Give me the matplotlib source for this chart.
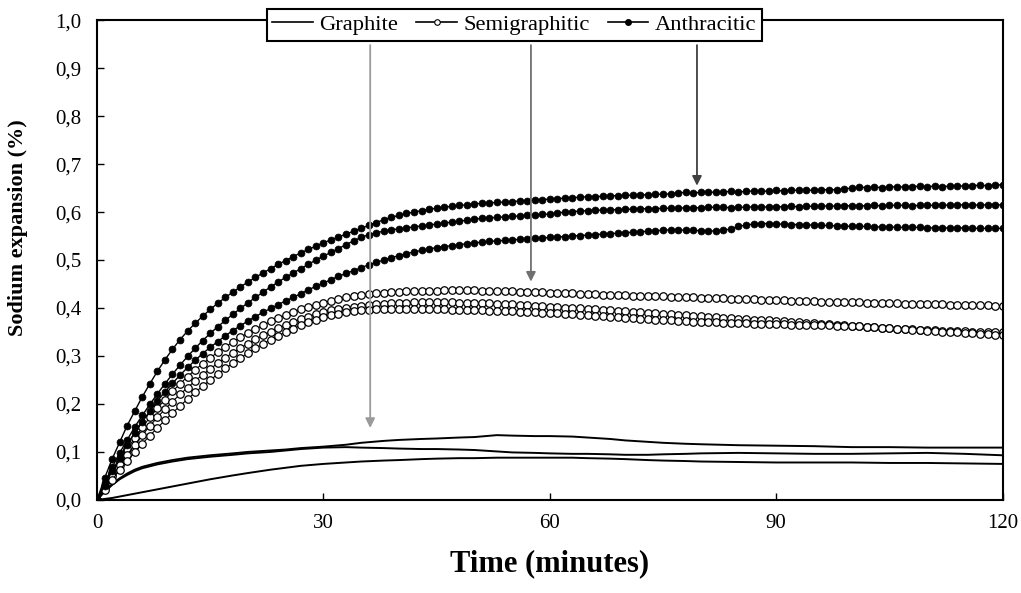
"""Sodium expansion vs time for graphite, semigraphitic and anthracitic cathodes."""

import numpy as np
import matplotlib
matplotlib.use('Agg')
import matplotlib.pyplot as plt
from matplotlib.lines import Line2D
from matplotlib.ticker import FuncFormatter, MultipleLocator

# time in minutes, one reading per minute for the marker curves
t = np.arange(0, 121)

anthracitic_1 = [
    0.000, 0.045, 0.085, 0.120, 0.155, 0.185, 0.215, 0.242, 0.268, 0.292,
    0.314, 0.334, 0.352, 0.368, 0.383, 0.397, 0.410, 0.422, 0.433, 0.444,
    0.454, 0.464, 0.473, 0.482, 0.491, 0.499, 0.507, 0.515, 0.522, 0.529,
    0.536, 0.542, 0.548, 0.554, 0.560, 0.566, 0.572, 0.578, 0.584, 0.589,
    0.593, 0.597, 0.600, 0.603, 0.606, 0.608, 0.610, 0.612, 0.614, 0.615,
    0.617, 0.618, 0.619, 0.620, 0.621, 0.622, 0.623, 0.624, 0.625, 0.626,
    0.627, 0.628, 0.629, 0.630, 0.631, 0.632, 0.632, 0.633, 0.634, 0.634,
    0.635, 0.635, 0.636, 0.636, 0.637, 0.637, 0.638, 0.640, 0.641, 0.640,
    0.641, 0.642, 0.641, 0.642, 0.643, 0.642, 0.643, 0.644, 0.643, 0.644,
    0.645, 0.644, 0.645, 0.646, 0.645, 0.646, 0.647, 0.646, 0.647, 0.648,
    0.650, 0.652, 0.651, 0.652, 0.651, 0.652, 0.653, 0.652, 0.653, 0.654,
    0.653, 0.654, 0.653, 0.654, 0.655, 0.654, 0.655, 0.656, 0.655, 0.656,
    0.657,
]
anthracitic_2 = [
    0.000, 0.035, 0.068, 0.098, 0.125, 0.152, 0.176, 0.199, 0.221, 0.242,
    0.262, 0.281, 0.299, 0.316, 0.332, 0.347, 0.361, 0.374, 0.387, 0.399,
    0.411, 0.422, 0.433, 0.444, 0.454, 0.464, 0.473, 0.482, 0.491, 0.500,
    0.508, 0.516, 0.524, 0.532, 0.540, 0.547, 0.553, 0.557, 0.560, 0.563,
    0.565, 0.567, 0.569, 0.571, 0.573, 0.575, 0.577, 0.579, 0.581, 0.583,
    0.585, 0.587, 0.588, 0.589, 0.590, 0.591, 0.592, 0.593, 0.594, 0.595,
    0.596, 0.598, 0.600, 0.601, 0.602, 0.603, 0.604, 0.604, 0.605, 0.605,
    0.606, 0.606, 0.607, 0.607, 0.607, 0.608, 0.608, 0.608, 0.609, 0.609,
    0.609, 0.610, 0.610, 0.610, 0.609, 0.610, 0.610, 0.611, 0.610, 0.611,
    0.611, 0.611, 0.612, 0.611, 0.612, 0.612, 0.612, 0.613, 0.612, 0.613,
    0.613, 0.613, 0.613, 0.614, 0.613, 0.614, 0.614, 0.614, 0.613, 0.614,
    0.614, 0.614, 0.615, 0.614, 0.615, 0.615, 0.614, 0.615, 0.615, 0.615,
    0.615,
]
anthracitic_3 = [
    0.000, 0.030, 0.060, 0.088, 0.115, 0.140, 0.163, 0.185, 0.206, 0.225,
    0.243, 0.260, 0.276, 0.291, 0.305, 0.318, 0.330, 0.342, 0.353, 0.363,
    0.373, 0.382, 0.391, 0.399, 0.407, 0.415, 0.422, 0.430, 0.438, 0.445,
    0.452, 0.459, 0.466, 0.472, 0.478, 0.484, 0.490, 0.495, 0.500, 0.505,
    0.509, 0.513, 0.517, 0.520, 0.523, 0.526, 0.528, 0.530, 0.532, 0.534,
    0.536, 0.537, 0.539, 0.540, 0.541, 0.542, 0.543, 0.544, 0.545, 0.546,
    0.547, 0.548, 0.549, 0.550, 0.551, 0.552, 0.553, 0.554, 0.555, 0.556,
    0.557, 0.558, 0.559, 0.560, 0.561, 0.562, 0.563, 0.563, 0.562, 0.562,
    0.561, 0.560, 0.561, 0.562, 0.565, 0.570, 0.573, 0.575, 0.576, 0.576,
    0.575, 0.575, 0.574, 0.574, 0.573, 0.573, 0.572, 0.572, 0.571, 0.571,
    0.570, 0.570, 0.570, 0.569, 0.569, 0.569, 0.568, 0.568, 0.568, 0.568,
    0.567, 0.567, 0.567, 0.567, 0.567, 0.567, 0.566, 0.566, 0.566, 0.566,
    0.566,
]
semigraphitic_1 = [
    0.000, 0.028, 0.056, 0.082, 0.106, 0.129, 0.151, 0.172, 0.191, 0.209,
    0.226, 0.242, 0.257, 0.271, 0.284, 0.296, 0.308, 0.319, 0.329, 0.339,
    0.348, 0.356, 0.364, 0.372, 0.379, 0.385, 0.391, 0.397, 0.402, 0.407,
    0.411, 0.415, 0.419, 0.422, 0.425, 0.427, 0.429, 0.431, 0.432, 0.433,
    0.434, 0.435, 0.435, 0.436, 0.436, 0.436, 0.437, 0.437, 0.437, 0.437,
    0.437, 0.436, 0.436, 0.436, 0.435, 0.435, 0.434, 0.434, 0.433, 0.433,
    0.432, 0.432, 0.431, 0.431, 0.430, 0.430, 0.429, 0.428, 0.428, 0.427,
    0.427, 0.426, 0.426, 0.425, 0.425, 0.424, 0.423, 0.423, 0.422, 0.422,
    0.421, 0.421, 0.420, 0.420, 0.419, 0.419, 0.418, 0.418, 0.417, 0.417,
    0.416, 0.416, 0.415, 0.415, 0.414, 0.414, 0.413, 0.413, 0.413, 0.412,
    0.412, 0.412, 0.411, 0.411, 0.410, 0.410, 0.410, 0.409, 0.409, 0.409,
    0.408, 0.408, 0.408, 0.407, 0.407, 0.407, 0.406, 0.406, 0.406, 0.405,
    0.405,
]
semigraphitic_2 = [
    0.000, 0.025, 0.049, 0.072, 0.094, 0.115, 0.135, 0.154, 0.172, 0.189,
    0.205, 0.220, 0.234, 0.248, 0.261, 0.273, 0.285, 0.296, 0.307, 0.317,
    0.326, 0.335, 0.343, 0.351, 0.358, 0.365, 0.371, 0.377, 0.382, 0.387,
    0.391, 0.395, 0.398, 0.401, 0.403, 0.405, 0.407, 0.408, 0.409, 0.410,
    0.411, 0.411, 0.412, 0.412, 0.412, 0.412, 0.412, 0.412, 0.411, 0.411,
    0.411, 0.410, 0.410, 0.409, 0.409, 0.408, 0.407, 0.406, 0.405, 0.404,
    0.403, 0.402, 0.401, 0.400, 0.399, 0.398, 0.397, 0.396, 0.395, 0.394,
    0.393, 0.392, 0.391, 0.390, 0.389, 0.388, 0.387, 0.386, 0.385, 0.384,
    0.383, 0.382, 0.381, 0.380, 0.379, 0.378, 0.377, 0.376, 0.375, 0.374,
    0.373, 0.372, 0.371, 0.370, 0.369, 0.368, 0.367, 0.366, 0.365, 0.364,
    0.363, 0.362, 0.361, 0.360, 0.359, 0.358, 0.357, 0.357, 0.356, 0.355,
    0.355, 0.354, 0.353, 0.353, 0.352, 0.352, 0.351, 0.351, 0.350, 0.350,
    0.349,
]
semigraphitic_3 = [
    0.000, 0.021, 0.042, 0.062, 0.081, 0.099, 0.117, 0.134, 0.150, 0.166,
    0.181, 0.196, 0.210, 0.224, 0.237, 0.250, 0.262, 0.274, 0.285, 0.296,
    0.306, 0.316, 0.325, 0.334, 0.342, 0.350, 0.357, 0.364, 0.370, 0.376,
    0.381, 0.385, 0.388, 0.391, 0.393, 0.395, 0.396, 0.397, 0.398, 0.398,
    0.398, 0.398, 0.398, 0.398, 0.397, 0.397, 0.397, 0.396, 0.396, 0.396,
    0.395, 0.395, 0.394, 0.394, 0.393, 0.393, 0.392, 0.392, 0.391, 0.390,
    0.390, 0.389, 0.388, 0.387, 0.386, 0.385, 0.384, 0.383, 0.382, 0.381,
    0.380, 0.379, 0.378, 0.377, 0.376, 0.375, 0.374, 0.373, 0.372, 0.371,
    0.371, 0.370, 0.370, 0.369, 0.369, 0.368, 0.368, 0.367, 0.367, 0.366,
    0.366, 0.366, 0.365, 0.365, 0.365, 0.364, 0.364, 0.364, 0.363, 0.363,
    0.362, 0.362, 0.361, 0.360, 0.359, 0.358, 0.357, 0.356, 0.355, 0.354,
    0.353, 0.352, 0.351, 0.350, 0.349, 0.348, 0.347, 0.346, 0.345, 0.344,
    0.343,
]

# graphite curves are plain lines, read at fewer times
t_graphite = [0, 1, 2, 3, 4, 5, 6, 8, 10, 12, 15, 18, 20, 23, 25, 27, 30, 33,
              35, 38, 40, 43, 45, 48, 50, 53, 55, 58, 60, 63, 65, 68, 70, 73,
              75, 78, 80, 85, 90, 95, 100, 105, 110, 115, 120]
graphite_1 = [0.000, 0.018, 0.033, 0.045, 0.055, 0.063, 0.069, 0.077, 0.083,
              0.088, 0.093, 0.097, 0.100, 0.103, 0.105, 0.108, 0.111, 0.115,
              0.119, 0.123, 0.125, 0.127, 0.128, 0.130, 0.131, 0.135, 0.134,
              0.133, 0.133, 0.132, 0.130, 0.127, 0.124, 0.121, 0.119, 0.117,
              0.116, 0.114, 0.113, 0.112, 0.110, 0.110, 0.109, 0.109, 0.109]
graphite_2 = [0.000, 0.017, 0.031, 0.043, 0.052, 0.060, 0.066, 0.074, 0.080,
              0.085, 0.090, 0.094, 0.097, 0.100, 0.103, 0.106, 0.109, 0.110,
              0.109, 0.108, 0.107, 0.106, 0.106, 0.105, 0.104, 0.101, 0.099,
              0.098, 0.097, 0.096, 0.096, 0.095, 0.094, 0.094, 0.095, 0.096,
              0.097, 0.098, 0.097, 0.096, 0.096, 0.097, 0.098, 0.096, 0.093]
graphite_3 = [0.000, 0.002, 0.004, 0.007, 0.010, 0.013, 0.016, 0.022, 0.028,
              0.034, 0.043, 0.051, 0.056, 0.063, 0.067, 0.071, 0.075, 0.078,
              0.080, 0.082, 0.083, 0.085, 0.086, 0.087, 0.087, 0.088, 0.088,
              0.088, 0.088, 0.088, 0.087, 0.086, 0.085, 0.083, 0.082, 0.081,
              0.080, 0.079, 0.078, 0.078, 0.078, 0.077, 0.077, 0.076, 0.075]

# arrows from the legend: (time, tip value)
arrow_graphite = (36.2, 0.15)
arrow_semi = (57.5, 0.455)
arrow_anthr = (79.5, 0.655)
arrow_top = 0.948

plt.rcParams['font.family'] = ['Liberation Serif', 'DejaVu Serif']

fig = plt.figure(figsize=(10.21, 5.93), dpi=100)
ax = fig.add_axes([0.095, 0.157, 0.887, 0.809])

for g in (graphite_1, graphite_2, graphite_3):
    ax.plot(t_graphite, g, color='black', lw=1.4)

for s in (semigraphitic_1, semigraphitic_2, semigraphitic_3):
    ax.plot(t, s, color='black', lw=0.8, marker='o', ms=5.4,
            mfc='white', mec='black', mew=0.9)

for a in (anthracitic_1, anthracitic_2, anthracitic_3):
    ax.plot(t, a, color='black', lw=1.0, marker='o', ms=5.0,
            mfc='black', mec='black', mew=0.5)

for (xa, ya), col in ((arrow_graphite, '#9a9a9a'), (arrow_semi, '#707070'),
                      (arrow_anthr, '#404040')):
    ax.annotate('', xy=(xa, ya), xytext=(xa, arrow_top),
                arrowprops=dict(arrowstyle='-|>', color=col, lw=1.3,
                                mutation_scale=14, shrinkA=0, shrinkB=0))

ax.set_xlim(0, 120)
ax.set_ylim(0, 1.0)
ax.xaxis.set_major_locator(MultipleLocator(30))
ax.yaxis.set_major_locator(MultipleLocator(0.1))
ax.yaxis.set_major_formatter(FuncFormatter(lambda v, p: f'{v:.1f}'.replace('.', ',')))
ax.tick_params(direction='in', length=5, width=1, labelsize=15, pad=11,
               top=False, right=False)
ax.tick_params(axis='x', pad=10)
for sp in ax.spines.values():
    sp.set_linewidth(1.5)

ax.set_xlabel('Time (minutes)', fontsize=22, fontweight='bold', labelpad=12)
ax.set_ylabel('Sodium expansion (%)', fontsize=16, fontweight='bold')
ax.yaxis.set_label_coords(-0.076, 0.567)

handles = [
    Line2D([], [], color='black', lw=1.2),
    Line2D([], [], color='black', lw=1.2, marker='o', ms=4, mfc='white',
           mec='black', mew=0.8),
    Line2D([], [], color='black', lw=1.2, marker='o', ms=4, mfc='black',
           mec='black'),
]
leg = ax.legend(handles, ['Graphite', 'Semigraphitic', 'Anthracitic'],
                loc='center', bbox_to_anchor=(0.461, 0.99), ncol=3,
                fontsize=16.2, frameon=True, fancybox=False, framealpha=1,
                edgecolor='black', handlelength=1.8, handletextpad=0.3,
                columnspacing=0.8, borderpad=0.25, borderaxespad=0)
leg.get_frame().set_linewidth(1.5)
leg.set_zorder(10)

fig.savefig('out.png', dpi=100)
